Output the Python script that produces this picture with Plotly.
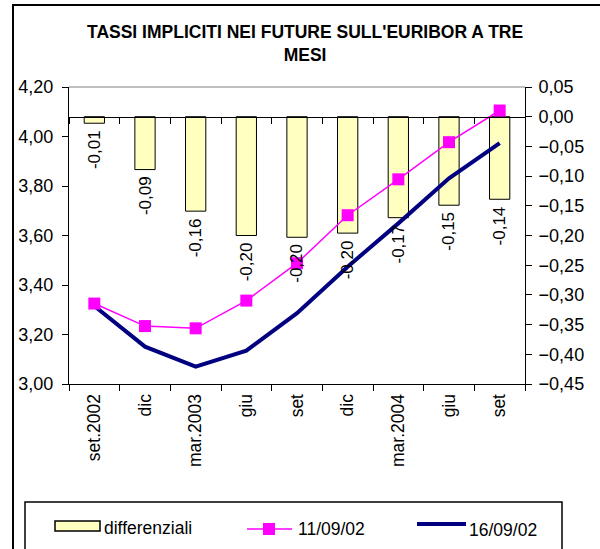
import plotly.graph_objects as go

# ---- data ----
months = ["set.2002", "dic", "mar.2003", "giu", "set", "dic", "mar.2004", "giu", "set"]
differenziali = [-0.011, -0.089, -0.159, -0.200, -0.203, -0.196, -0.170, -0.149, -0.139]
rate_1109 = [3.325, 3.234, 3.225, 3.337, 3.488, 3.682, 3.827, 3.977, 4.105]
rate_1609 = [3.315, 3.151, 3.070, 3.135, 3.286, 3.474, 3.649, 3.831, 3.973]
left_range = [3.00, 4.20]
right_range = [-0.45, 0.05]
title_text = "TASSI IMPLICITI NEI FUTURE SULL'EURIBOR A TRE<br>MESI"

W, H = 600, 549
PL, PR, PT, PB = 69, 525, 87, 384  # plot area in page pixels
L, T = PL, PT
R, B = W - PR, H - PB
PW, PH = PR - PL, PB - PT


def px(x):
    return (x - PL) / PW


def py(y):
    return (PB - y) / PH


FONT = "Liberation Sans, Arial, sans-serif"
xs = list(range(len(months)))
xr = [-0.5, len(months) - 0.5]

fig = go.Figure()
fig.add_trace(go.Bar(
    x=xs, y=differenziali, xaxis="x", yaxis="y", width=0.4,
    marker=dict(color="#FFFFC0", line=dict(color="black", width=1)),
    name="differenziali", showlegend=False, hoverinfo="skip"))
fig.add_trace(go.Scatter(
    x=xs, y=rate_1609, xaxis="x2", yaxis="y2", mode="lines",
    line=dict(color="#000080", width=4), name="16/09/02", showlegend=False))
fig.add_trace(go.Scatter(
    x=xs, y=rate_1109, xaxis="x2", yaxis="y2", mode="lines+markers",
    line=dict(color="#FF00FF", width=1.5),
    marker=dict(symbol="square", size=12, color="#FF00FF"),
    name="11/09/02", showlegend=False))

zero_pos = (0 - right_range[0]) / (right_range[1] - right_range[0])

ytickfont = dict(family=FONT, size=18, color="black")
xtickfont = dict(family=FONT, size=17.5, color="black")
fig.update_layout(
    width=W, height=H, autosize=False,
    margin=dict(l=L, r=R, t=T, b=B),
    paper_bgcolor="white", plot_bgcolor="white",
    separators=",.",
    font=dict(family=FONT, color="black"),
    showlegend=False,
    xaxis=dict(range=xr, anchor="free", position=zero_pos, showline=True,
               linecolor="black", linewidth=1, ticks="", showticklabels=False,
               showgrid=False, zeroline=False,
               minor=dict(ticks="outside", ticklen=6, tick0=-0.5, dtick=1,
                          tickcolor="black", showgrid=False)),
    yaxis=dict(range=right_range, side="right", anchor="x", dtick=0.05, tick0=0,
               tickformat=".2f", ticks="outside", ticklen=6, tickcolor="black",
               showline=True, linecolor="black", linewidth=1, showgrid=False,
               zeroline=False, tickfont=ytickfont, ticklabelstandoff=3),
    xaxis2=dict(range=xr, overlaying="x", anchor="y2", side="bottom",
                tickmode="array", tickvals=xs, ticktext=months, tickangle=-90,
                ticks="", showline=True, linecolor="black", linewidth=1,
                showgrid=False, zeroline=False, tickfont=xtickfont,
                ticklabelstandoff=2,
                minor=dict(ticks="outside", ticklen=6, tick0=-0.5, dtick=1,
                           tickcolor="black", showgrid=False)),
    yaxis2=dict(range=left_range, overlaying="y", side="left", anchor="x2",
                dtick=0.2, tick0=3.0, tickformat=".2f", ticks="outside",
                ticklen=6, tickcolor="black", showline=True, linecolor="black",
                linewidth=1, showgrid=False, zeroline=False, tickfont=ytickfont,
                ticklabelstandoff=5),
)

# title
fig.add_annotation(x=px(305), y=py(43), xref="paper", yref="paper",
                   text=f"<b>{title_text}</b>", showarrow=False,
                   xanchor="center", yanchor="middle", align="center",
                   font=dict(family=FONT, size=17.5, color="black"))

# bar value labels
for i, v in enumerate(differenziali):
    fig.add_annotation(x=i, y=v, xref="x", yref="y",
                       text=f"{v:.2f}".replace(".", ","), textangle=-90,
                       showarrow=False, yanchor="top", xanchor="center", yshift=-5,
                       font=dict(family=FONT, size=17, color="black"))

shapes = []
shapes.append(dict(type="line", xref="paper", yref="paper", x0=0, x1=1, y0=1, y1=1,
                   line=dict(color="#808080", width=1)))
# outer chart border (left and top edges as filled strips)
shapes.append(dict(type="rect", xref="paper", yref="paper",
                   x0=px(12), x1=px(14), y0=py(560), y1=py(4),
                   fillcolor="black", line=dict(width=0), layer="above"))
shapes.append(dict(type="rect", xref="paper", yref="paper",
                   x0=px(12), x1=px(600), y0=py(6), y1=py(4),
                   fillcolor="black", line=dict(width=0), layer="above"))
# legend box and swatches
shapes.append(dict(type="rect", xref="paper", yref="paper",
                   x0=px(25), x1=px(562), y0=py(600), y1=py(502),
                   line=dict(color="black", width=1.5), layer="above"))
shapes.append(dict(type="rect", xref="paper", yref="paper",
                   x0=px(55), x1=px(100), y0=py(531), y1=py(521),
                   fillcolor="#FFFFC0", line=dict(color="black", width=1.5)))
shapes.append(dict(type="line", xref="paper", yref="paper",
                   x0=px(247), x1=px(292), y0=py(529), y1=py(529),
                   line=dict(color="#FF00FF", width=1.5)))
shapes.append(dict(type="rect", xref="paper", yref="paper",
                   x0=px(263), x1=px(275), y0=py(535), y1=py(523),
                   fillcolor="#FF00FF", line=dict(color="#FF00FF", width=0)))
shapes.append(dict(type="line", xref="paper", yref="paper",
                   x0=px(417), x1=px(466), y0=py(524), y1=py(524),
                   line=dict(color="#000080", width=4)))
fig.update_layout(shapes=shapes)

legend_items = [("differenziali", 102, 528), ("11/09/02", 296, 529), ("16/09/02", 467, 530)]
for txt, lx, ly in legend_items:
    fig.add_annotation(x=px(lx), y=py(ly), xref="paper", yref="paper", text=txt,
                       showarrow=False, xanchor="left", yanchor="middle",
                       font=dict(family=FONT, size=17.5, color="black"))

fig.write_html("out.html",
               config={"displayModeBar": False},
               post_script="document.body.style.margin='0';"
                           "document.body.style.overflow='hidden';")
